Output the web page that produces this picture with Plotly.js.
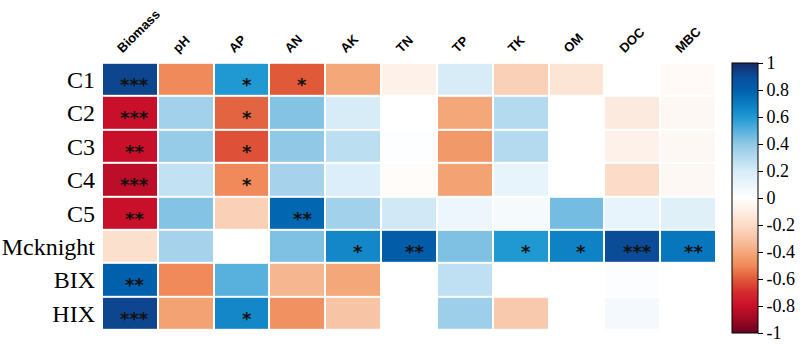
<!DOCTYPE html>
<html><head><meta charset="utf-8">
<script src="https://cdn.plot.ly/plotly-3.0.1.min.js"></script>
<style>body{margin:0;background:#fff}#c{width:800px;height:344px}</style>
</head><body><div id="c"></div>
<script>
const columns = ["Biomass","pH","AP","AN","AK","TN","TP","TK","OM","DOC","MBC"];
const rows = ["C1","C2","C3","C4","C5","Mcknight","BIX","HIX"];
const values = [
  [0.92,-0.50,0.60,-0.60,-0.40,-0.08,0.20,-0.25,-0.15,0.00,-0.03],
  [-0.80,0.35,-0.58,0.42,0.20,0.00,-0.40,0.30,0.00,-0.12,-0.04],
  [-0.80,0.38,-0.62,0.40,0.28,0.01,-0.45,0.30,0.00,-0.08,-0.04],
  [-0.83,0.26,-0.50,0.34,0.18,-0.02,-0.42,0.12,0.00,-0.20,-0.04],
  [-0.80,0.42,-0.25,0.78,0.35,0.22,0.10,0.05,0.45,0.12,0.16],
  [-0.18,0.34,0.00,0.43,0.66,0.82,0.43,0.60,0.68,0.90,0.72],
  [0.80,-0.50,0.50,-0.35,-0.40,0.00,0.27,0.00,0.00,0.02,0.00],
  [0.92,-0.42,0.66,-0.48,-0.30,0.00,0.36,-0.28,0.00,0.06,0.00]
];
const stars = [
  ["***","","*","*","","","","","","",""],
  ["***","","*","","","","","","","",""],
  ["**","","*","","","","","","","",""],
  ["***","","*","","","","","","","",""],
  ["**","","","**","","","","","","",""],
  ["","","","","*","**","","*","*","***","**"],
  ["**","","","","","","","","","",""],
  ["***","","*","","","","","","","",""]
];
const colorTicks = [1,0.8,0.6,0.4,0.2,0,-0.2,-0.4,-0.6,-0.8,-1];

const cs = [
  [0.0,'#67001f'],[0.05,'#a00a24'],[0.1,'#c8102a'],[0.15,'#d42a2c'],[0.2,'#e05a3a'],
  [0.25,'#f08a5a'],[0.3,'#f4a87a'],[0.35,'#f8c4a6'],[0.4,'#fcdcc8'],[0.5,'#ffffff'],
  [0.6,'#d8ecf8'],[0.7,'#90c8e6'],[0.8,'#2098d2'],[0.85,'#0a7cc0'],[0.9,'#0060ac'],
  [0.95,'#0a4c98'],[1.0,'#1a2a68']
];

const annotations = [];
rows.forEach((r,i)=>columns.forEach((c,j)=>{
  if(stars[i][j]) annotations.push({x:c,y:r,xref:'x',yref:'y',text:stars[i][j],showarrow:false,
    xshift:5,yshift:-5,font:{family:'DejaVu Sans',size:18,color:'#111',weight:'bold'}});
}));

const trace = {
  type:'heatmap', z:values, x:columns, y:rows, zmin:-1, zmax:1, colorscale:cs,
  xgap:2, ygap:2,
  colorbar:{xref:'container',x:732/800,xanchor:'left',y:0.4925,yanchor:'middle',
    len:270/268,lenmode:'fraction',
    thickness:26,xpad:0,ypad:0,outlinewidth:1,outlinecolor:'#000',
    tickvals:colorTicks,ticktext:colorTicks.map(String),ticks:'outside',ticklen:5,tickcolor:'#000',
    tickfont:{family:'Liberation Serif, Times New Roman',size:18,color:'#000'}}
};
const layout = {
  width:800,height:344,margin:{l:102,r:84,t:62,b:14},
  paper_bgcolor:'#fff',plot_bgcolor:'#fff',
  xaxis:{side:'top',tickangle:-45,showgrid:false,zeroline:false,ticks:'',automargin:false,
    ticklabelshift:-12,ticklabelstandoff:3,
    tickfont:{family:'Liberation Sans, Arial',size:13,color:'#000',weight:'bold'}},
  yaxis:{autorange:'reversed',showgrid:false,zeroline:false,ticks:'',automargin:false,ticklabelstandoff:6,
    tickfont:{family:'Liberation Serif, Times New Roman',size:24,color:'#000'}},
  annotations:annotations,showlegend:false
};
Plotly.newPlot('c',[trace],layout,{staticPlot:true});
</script></body></html>
